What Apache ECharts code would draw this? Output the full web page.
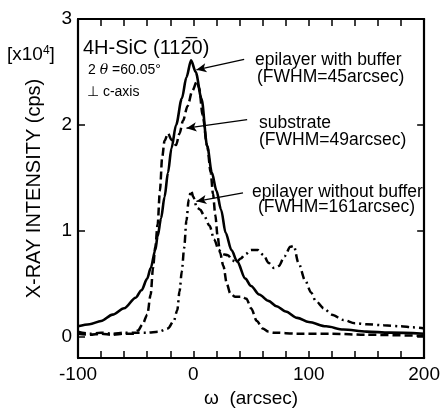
<!DOCTYPE html>
<html><head><meta charset="utf-8">
<script src="https://cdn.jsdelivr.net/npm/echarts@6/dist/echarts.min.js"></script>
<style>html,body{margin:0;padding:0;background:#fff}#c{width:443px;height:413px}</style>
</head><body><div id="c"></div>
<script>
// ---- data (x10^4 cps vs omega arcsec) ----
const bufferOmega = [-100,-90,-80,-70,-60,-50,-45,-40,-37,-33,-31,-28,-25,-22,-19,-15,-10,-6,-2,2,7,12,16,20,24,28,33,38,45,50,57,65,72,80,90,100,115,130,150,170,200];
const bufferIntensity = [0.10,0.12,0.15,0.21,0.27,0.37,0.44,0.55,0.65,0.82,0.95,1.12,1.32,1.55,1.78,2.00,2.25,2.45,2.61,2.50,2.25,1.80,1.55,1.38,1.20,0.98,0.82,0.71,0.55,0.48,0.40,0.34,0.29,0.24,0.18,0.14,0.10,0.07,0.05,0.04,0.03];

const substrateOmega = [-100,-90,-80,-70,-60,-52,-48,-44,-40,-37,-35,-33,-31,-29,-27,-25,-22,-19,-15,-12,-9,-5,-1,3,5,8,12,15,17,19,21,23,26,29,32,36,42,46,50,55,60,65,70,90,120,150,200];
const substrateIntensity = [0.03,0.02,0.03,0.02,0.03,0.03,0.06,0.12,0.21,0.40,0.65,0.85,1.06,1.38,1.70,1.85,1.92,1.86,1.81,1.92,2.04,2.18,2.32,2.41,2.35,2.09,1.80,1.55,1.35,1.15,0.95,0.80,0.67,0.50,0.41,0.38,0.38,0.36,0.27,0.15,0.08,0.05,0.04,0.03,0.03,0.02,0.01];

const noBufferOmega = [-100,-90,-80,-70,-60,-50,-40,-30,-22,-17,-14,-12,-10,-8,-6,-4,-2,0,3,6,9,14,18,22,26,30,34,37,41,45,50,56,61,65,70,74,79,84,87,91,97,102,106,113,120,130,140,150,165,180,190,200];
const noBufferIntensity = [0.05,0.03,0.04,0.03,0.04,0.04,0.04,0.05,0.08,0.15,0.25,0.43,0.62,0.84,1.10,1.30,1.38,1.32,1.22,1.20,1.15,1.05,0.92,0.82,0.78,0.77,0.72,0.70,0.74,0.78,0.82,0.82,0.77,0.70,0.65,0.67,0.76,0.85,0.86,0.70,0.53,0.42,0.34,0.27,0.21,0.16,0.13,0.12,0.11,0.10,0.09,0.08];

const xTickLabels = [-100, 0, 100, 200];
const yTickLabels = [0, 1, 2, 3];

// annotation arrows: [from, to] in data coords
const arrowBuffer = [[44, 2.62], [2.6, 2.52]];
const arrowSubstrate = [[46.6, 2.05], [-6, 1.97]];
const arrowNoBuffer = [[43, 1.36], [2.6, 1.28]];

const zip = (a, b) => a.map((v, i) => [v, b[i]]);
const FONT = '"Liberation Sans", Arial, Helvetica, sans-serif';

const chart = echarts.init(document.getElementById('c'), null, {renderer: 'canvas'});

const axisCommon = {
  axisLine: {onZero: false, lineStyle: {color: '#000', width: 2.2}},
  splitLine: {show: false}
};

function arrowLine(pts) {
  return [{coord: pts[0], symbol: 'none'}, {coord: pts[1], symbol: 'arrow', symbolSize: [7, 10]}];
}

function txt(x, y, text, size, rich) {
  return {type: 'text', left: x, top: y, style: {text: text, font: size + 'px ' + FONT, fill: '#000', rich: rich || {}}};
}

chart.setOption({
  animation: false,
  backgroundColor: '#fff',
  grid: {left: 78, right: 16, top: 19, bottom: 51},
  xAxis: [
    Object.assign({}, axisCommon, {
      type: 'value', min: -100, max: 200, interval: 20, position: 'bottom',
      name: 'ω  (arcsec)', nameLocation: 'middle', nameGap: 27,
      nameTextStyle: {fontFamily: FONT, fontSize: 19, color: '#000'},
      axisTick: {inside: true, length: 7, lineStyle: {color: '#000', width: 1.5}},
      axisLabel: {customValues: xTickLabels, fontFamily: FONT, fontSize: 19, color: '#000', margin: 7}
    }),
    Object.assign({}, axisCommon, {
      type: 'value', min: -100, max: 200, interval: 20, position: 'top',
      axisTick: {inside: true, length: 7, lineStyle: {color: '#000', width: 1.5}},
      axisLabel: {show: false}
    })
  ],
  yAxis: [
    Object.assign({}, axisCommon, {
      type: 'value', min: -0.2, max: 3, position: 'left',
      name: 'X-RAY INTENSITY (cps)', nameLocation: 'middle', nameGap: 34, nameRotate: 90,
      nameTextStyle: {fontFamily: FONT, fontSize: 20, color: '#000'},
      axisTick: {inside: true, length: 7, customValues: yTickLabels, lineStyle: {color: '#000', width: 1.5}},
      axisLabel: {customValues: yTickLabels, fontFamily: FONT, fontSize: 19, color: '#000', margin: 6}
    }),
    Object.assign({}, axisCommon, {
      type: 'value', min: -0.2, max: 3, position: 'right',
      axisTick: {inside: true, length: 7, customValues: yTickLabels, lineStyle: {color: '#000', width: 1.5}},
      axisLabel: {show: false}
    })
  ],
  series: [
    {
      name: 'epilayer with buffer', type: 'line', data: zip(bufferOmega, bufferIntensity),
      showSymbol: false, smooth: 0.3, smoothMonotone: 'x',
      lineStyle: {color: '#000', width: 2.6, type: 'solid'},
      markLine: {silent: true, symbol: ['none', 'arrow'], label: {show: false},
        lineStyle: {color: '#000', width: 1.3, type: 'solid'},
        data: [arrowLine(arrowBuffer), arrowLine(arrowSubstrate), arrowLine(arrowNoBuffer)]}
    },
    {
      name: 'substrate', type: 'line', data: zip(substrateOmega, substrateIntensity),
      showSymbol: false, smooth: 0.3, smoothMonotone: 'x',
      lineStyle: {color: '#000', width: 2.5, type: [8, 4]}
    },
    {
      name: 'epilayer without buffer', type: 'line', data: zip(noBufferOmega, noBufferIntensity),
      showSymbol: false, smooth: 0.3, smoothMonotone: 'x',
      lineStyle: {color: '#000', width: 2.5, type: [8, 4, 2, 4]}
    }
  ],
  graphic: [
    txt(7, 45, '[x10{s|4}]', 19, {s: {fontSize: 12, verticalAlign: 'top', padding: [0, 0, 8, 0], fontFamily: FONT}}),
    txt(83, 38, '4H-SiC (112\u03050)', 20),
    txt(88, 63, '2 {i|θ} =60.05°', 14, {i: {fontStyle: 'italic', fontSize: 14, fontFamily: 'DejaVu Serif'}}),
    txt(87, 85, '\u22a5 c-axis', 14),
    txt(255, 51, 'epilayer with buffer', 17.5),
    txt(257, 68, '(FWHM=45arcsec)', 17.5),
    txt(259, 114, 'substrate', 17.5),
    txt(259, 131, '(FWHM=49arcsec)', 17.5),
    txt(252, 183, 'epilayer without buffer', 17.5),
    txt(258, 198, '(FWHM=161arcsec)', 17.5)
  ]
});
</script></body></html>
